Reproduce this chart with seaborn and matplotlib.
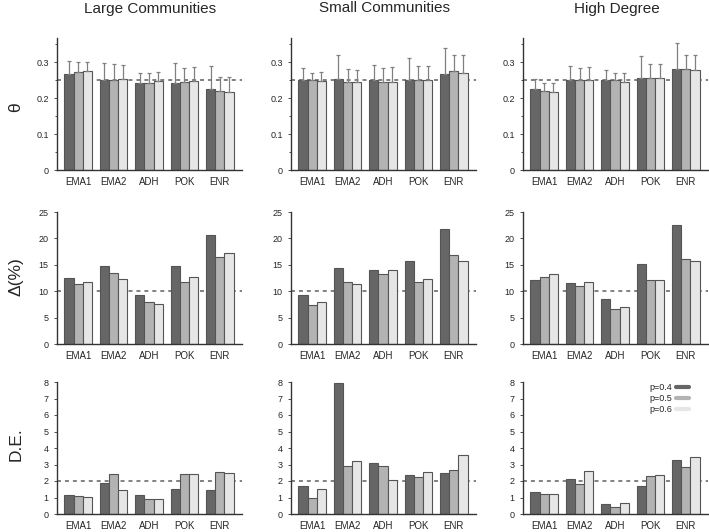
import matplotlib
matplotlib.use("Agg")
import matplotlib.pyplot as plt
import seaborn as sns
import pandas as pd
import numpy as np
from matplotlib.lines import Line2D
from matplotlib.ticker import FuncFormatter, MultipleLocator

sns.set_style("white")
plt.rcParams['font.family'] = ['Liberation Sans', 'DejaVu Sans']

methods = ["EMA1", "EMA2", "ADH", "POK", "ENR"]
levels = ["p=0.4", "p=0.5", "p=0.6"]
columns = ["Large Communities", "Small Communities", "High Degree"]
row_labels = ["θ", "Δ(%)", "D.E."]

# theta values (per column: list per level, values per method)
theta_large = [[0.267, 0.250, 0.241, 0.241, 0.224],
               [0.272, 0.251, 0.243, 0.245, 0.220],
               [0.274, 0.252, 0.248, 0.248, 0.217]]
theta_large_err = [[0.304, 0.297, 0.270, 0.297, 0.289],
                   [0.300, 0.294, 0.269, 0.283, 0.259],
                   [0.300, 0.291, 0.272, 0.286, 0.259]]
theta_small = [[0.250, 0.253, 0.250, 0.250, 0.266],
               [0.249, 0.246, 0.246, 0.250, 0.274],
               [0.248, 0.244, 0.244, 0.249, 0.271]]
theta_small_err = [[0.284, 0.320, 0.293, 0.312, 0.340],
                   [0.270, 0.282, 0.284, 0.288, 0.321],
                   [0.273, 0.279, 0.285, 0.288, 0.319]]
theta_high = [[0.225, 0.249, 0.249, 0.257, 0.281],
              [0.219, 0.249, 0.250, 0.256, 0.280],
              [0.217, 0.249, 0.245, 0.257, 0.279]]
theta_high_err = [[0.253, 0.288, 0.279, 0.316, 0.353],
                  [0.242, 0.284, 0.271, 0.295, 0.321],
                  [0.241, 0.286, 0.269, 0.295, 0.321]]

delta_large = [[12.5, 14.8, 9.3, 14.7, 20.7],
               [11.4, 13.5, 7.9, 11.7, 16.5],
               [11.8, 12.3, 7.6, 12.6, 17.2]]
delta_small = [[9.3, 14.3, 14.1, 15.7, 21.7],
               [7.4, 11.8, 13.3, 11.7, 16.9],
               [8.0, 11.4, 14.0, 12.4, 15.8]]
delta_high = [[12.2, 11.6, 8.5, 15.1, 22.6],
              [12.6, 10.9, 6.6, 12.2, 16.1],
              [13.3, 11.7, 7.0, 12.2, 15.8]]

de_large = [[1.18, 1.90, 1.14, 1.53, 1.47],
            [1.09, 2.43, 0.92, 2.45, 2.57],
            [1.04, 1.43, 0.92, 2.43, 2.51]]
de_small = [[1.68, 7.94, 3.09, 2.38, 2.46],
            [0.99, 2.89, 2.89, 2.22, 2.65],
            [1.52, 3.23, 2.04, 2.55, 3.58]]
de_high = [[1.33, 2.12, 0.61, 1.72, 3.29],
           [1.21, 1.80, 0.44, 2.32, 2.85],
           [1.21, 2.59, 0.65, 2.38, 3.45]]

rows = [
    dict(vals=[theta_large, theta_small, theta_high],
         errs=[theta_large_err, theta_small_err, theta_high_err],
         ylim=(0, 0.367), ticks=[0, 0.1, 0.2, 0.3], ref=0.25),
    dict(vals=[delta_large, delta_small, delta_high], errs=None,
         ylim=(0, 25), ticks=[0, 5, 10, 15, 20, 25], ref=10),
    dict(vals=[de_large, de_small, de_high], errs=None,
         ylim=(0, 8), ticks=[0, 1, 2, 3, 4, 5, 6, 7, 8], ref=2),
]

colors = ["#666666", "#b3b3b3", "#e6e6e6"]
palette = dict(zip(levels, colors))

fig = plt.figure(figsize=(7.09, 5.32), dpi=100)

lefts = [57, 291, 523]
axw = 185
bottoms = [170, 344, 514]
axh = 132
W, H = 709, 532

for r, row in enumerate(rows):
    for c in range(3):
        ax = fig.add_axes([lefts[c] / W, 1 - bottoms[r] / H, axw / W, axh / H])
        vals = row["vals"][c]
        df = pd.DataFrame({
            "method": [m for lv in levels for m in methods],
            "level": [lv for lv in levels for m in methods],
            "value": [v for lst in vals for v in lst],
        })
        sns.barplot(data=df, x="method", y="value", hue="level", order=methods,
                    hue_order=levels, palette=palette, width=0.78, gap=0,
                    edgecolor="#555555", linewidth=0.8, errorbar=None,
                    legend=False, ax=ax)
        bar_conts = list(ax.containers)
        if row["errs"] is not None:
            errs = row["errs"][c]
            for k, cont in enumerate(bar_conts):
                for j, bar in enumerate(cont.patches):
                    x = bar.get_x() + bar.get_width() / 2
                    top = vals[k][j]
                    ax.errorbar([x], [top], yerr=[[0], [errs[k][j] - top]],
                                fmt="none", ecolor="#808080", elinewidth=0.9,
                                capsize=1.5, capthick=0.9, zorder=1)
        ax.axhline(row["ref"], color="#777777", linestyle=(0, (2.2, 2.2)),
                   linewidth=1.3, zorder=0.5)
        ax.set_xlim(-0.6, 4.63)
        ax.set_ylim(*row["ylim"])
        ax.set_yticks(row["ticks"])
        ax.yaxis.set_major_formatter(FuncFormatter(lambda v, p: f"{v:g}"))
        if r == 0:
            ax.yaxis.set_minor_locator(MultipleLocator(0.05))
        ax.set_xlabel("")
        ax.set_ylabel("")
        for s in ["top", "right"]:
            ax.spines[s].set_visible(False)
        for s in ["left", "bottom"]:
            ax.spines[s].set_color("#333333")
            ax.spines[s].set_linewidth(1.0)
        ax.tick_params(axis="y", labelsize=6.5, length=2, width=0.6,
                       color="#333333", pad=4, left=True, which="both")
        ax.tick_params(axis="y", which="minor", length=1.2)
        ax.tick_params(axis="x", labelsize=7, length=0, pad=5)
        if r == 2 and c == 2:
            handles = [Line2D([0], [0], color=col, lw=3) for col in colors]
            ax.legend(handles, levels, loc="upper right",
                      bbox_to_anchor=(0.94, 1.055), frameon=False,
                      markerfirst=False, fontsize=6.5, handlelength=1.45,
                      handletextpad=0.35, labelspacing=0.22)

for c, t in enumerate(columns):
    fig.text((lefts[c] + axw / 2 + 1) / W, 1 - 12.5 / H, t, ha="center",
             va="baseline", fontsize=11)

label_y = [107, 277, 444]
for r, t in enumerate(row_labels):
    fig.text(16 / W, 1 - label_y[r] / H, t, ha="center", va="center",
             rotation=90, fontsize=12.5)

fig.savefig("out.png", dpi=100)
